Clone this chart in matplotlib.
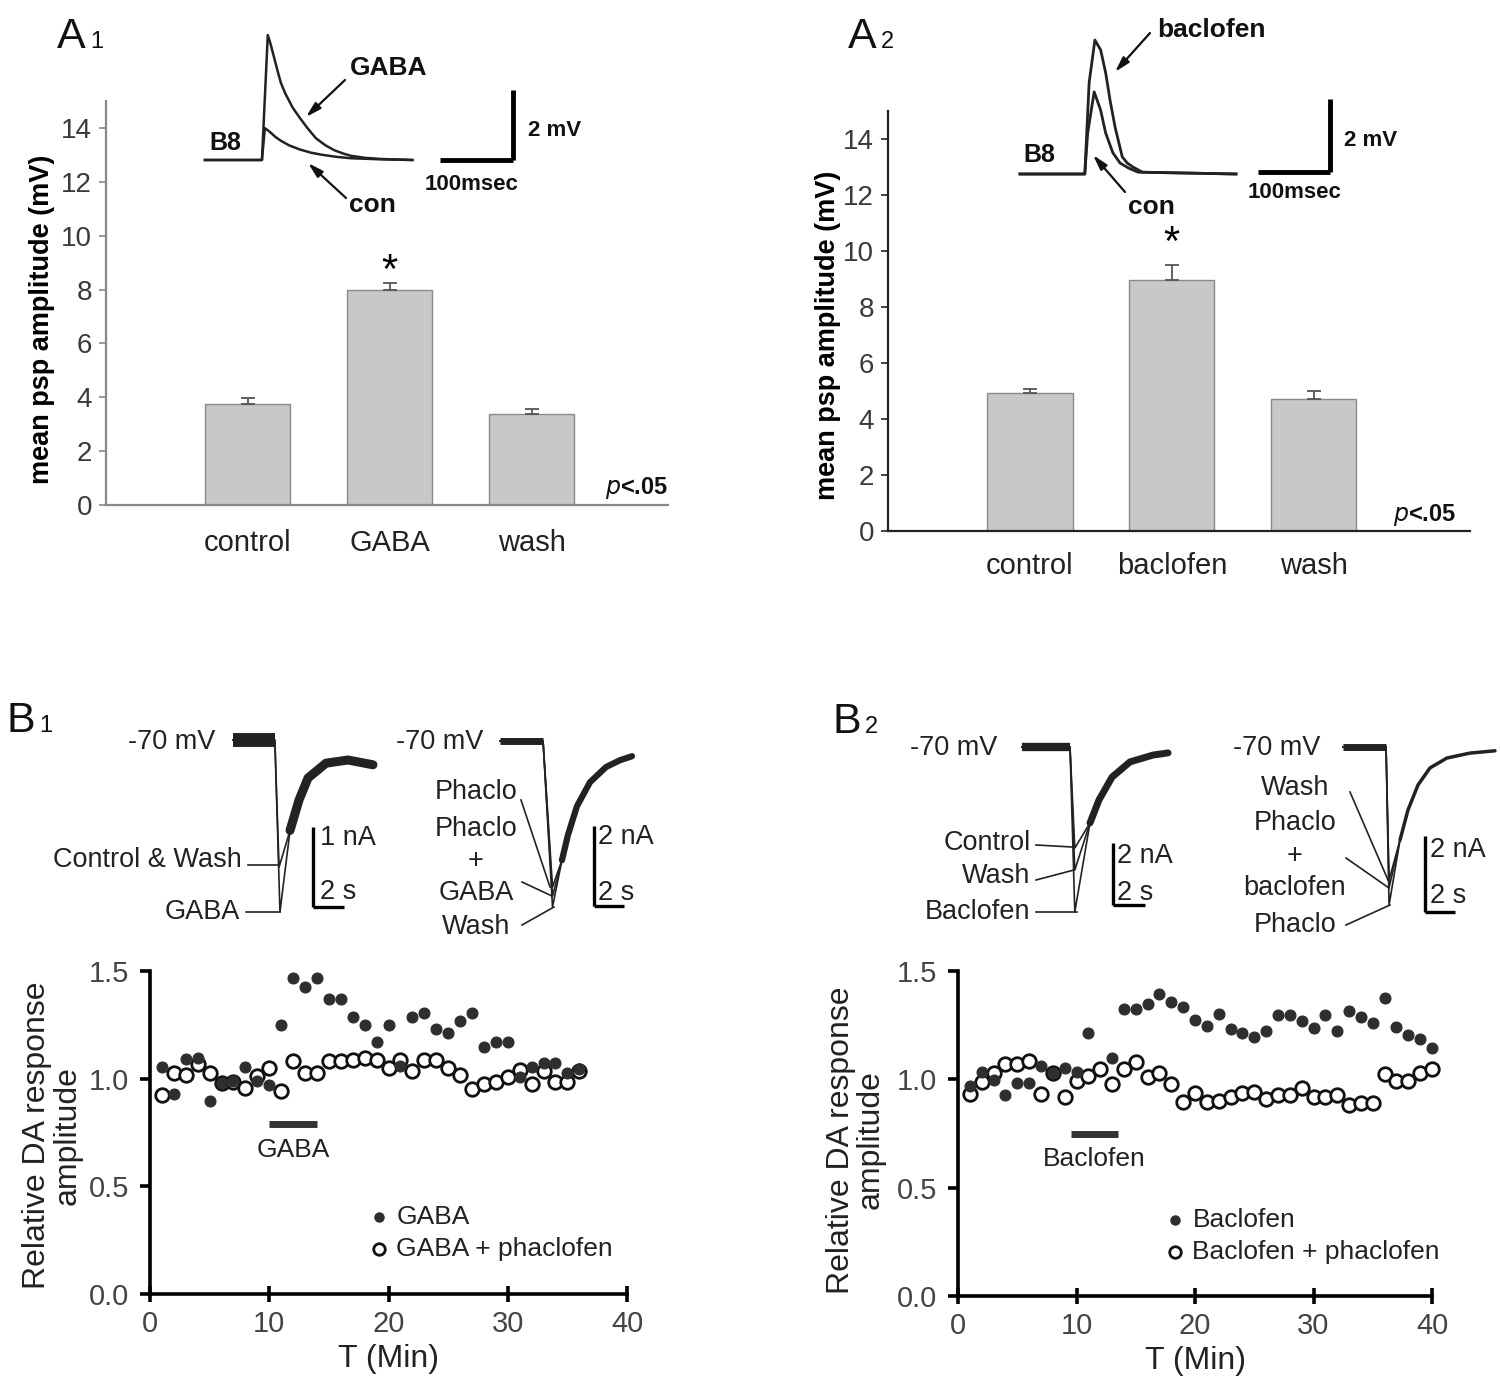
import numpy as np
import matplotlib.pyplot as plt

plt.rcParams['font.family'] = ['Liberation Sans', 'DejaVu Sans']

W, H = 1500, 1385

# ---------------- A: mean psp amplitude (mV) ----------------
a1_groups = ['control', 'GABA', 'wash']
a1_mean = [3.76, 7.98, 3.38]
a1_sem = [0.22, 0.26, 0.17]

a2_groups = ['control', 'baclofen', 'wash']
a2_mean = [4.93, 8.98, 4.72]
a2_sem = [0.14, 0.52, 0.28]

# example B8 psp traces (ms, mV above baseline)
a1_t_gaba = [0, 78, 86, 90, 95, 100, 104, 110, 120, 129, 140, 152, 165, 177, 190, 200, 220, 240, 284]
a1_v_gaba = [0, 0, 3.57, 3.3, 2.9, 2.5, 2.2, 1.9, 1.5, 1.23, 0.92, 0.62, 0.42, 0.28, 0.18, 0.12, 0.06, 0.03, 0]
a1_t_con = [0, 78, 82, 86, 90, 97, 104, 115, 130, 145, 160, 180, 200, 240, 284]
a1_v_con = [0, 0, 0.91, 0.85, 0.78, 0.65, 0.55, 0.42, 0.3, 0.21, 0.15, 0.09, 0.05, 0.02, 0]

a2_t_bac = [0, 90, 96, 104, 112, 119, 125, 132, 142, 149, 157, 170, 300]
a2_v_bac = [0, 0, 2.5, 3.67, 3.4, 2.77, 2.03, 1.29, 0.47, 0.3, 0.19, 0.05, 0]
a2_t_con = [0, 90, 94, 103, 112, 119, 129, 139, 151, 164, 300]
a2_v_con = [0, 0, 1.12, 2.25, 1.75, 1.12, 0.58, 0.3, 0.16, 0.05, 0]

# ---------------- B: relative DA response amplitude ----------------
b1_time = list(range(1, 37))
b1_gaba = [1.055, 0.93, 1.09, 1.094, 0.894, 0.98, 0.99, 1.055, 0.99, 0.97,
           1.248, 1.466, 1.428, 1.466, 1.37, 1.37, 1.288, 1.249, 1.168, 1.249,
           1.058, 1.288, 1.306, 1.23, 1.212, 1.27, 1.306, 1.148, 1.168, 1.168,
           1.01, 1.055, 1.072, 1.072, 1.028, 1.043]
b1_gaba_phac = [0.925, 1.028, 1.017, 1.066, 1.028, 0.978, 0.985, 0.957, 1.012, 1.05,
                0.943, 1.08, 1.028, 1.028, 1.08, 1.08, 1.089, 1.098, 1.089, 1.05,
                1.086, 1.035, 1.089, 1.089, 1.05, 1.017, 0.954, 0.975, 0.985, 1.009,
                1.04, 0.977, 1.034, 0.986, 0.986, 1.035]
b1_drug = [10, 14]

b2_time_bac = [1, 2, 3, 4, 5, 6, 7, 8, 9, 10, 11,
               13, 14, 15, 16, 17, 18, 19, 20, 21, 22, 23, 24, 25, 26,
               27, 28, 29, 30, 31, 32, 33, 34, 35, 36, 37, 38, 39, 40]
b2_bac = [0.969, 1.035, 0.997, 0.928, 0.985, 0.985, 1.062, 1.028, 1.051, 1.035, 1.212,
          1.097, 1.323, 1.323, 1.349, 1.392, 1.357, 1.335, 1.272, 1.246, 1.3,
          1.232, 1.212, 1.194, 1.225, 1.298, 1.298, 1.271, 1.238, 1.298, 1.225,
          1.317, 1.289, 1.262, 1.374, 1.24, 1.205, 1.185, 1.146]
b2_time_phac = list(range(1, 41))
b2_bac_phac = [0.931, 0.986, 1.028, 1.071, 1.071, 1.086, 0.932, 1.03, 0.917, 0.994,
               1.015, 1.048, 0.978, 1.048, 1.082, 1.009, 1.031, 0.978, 0.897, 0.935,
               0.897, 0.902, 0.92, 0.935, 0.94, 0.908, 0.928, 0.928, 0.958, 0.92,
               0.92, 0.928, 0.882, 0.892, 0.889, 1.025, 0.994, 0.994, 1.028, 1.046]
b2_drug = [9.5, 13.5]

# example DA current traces (s, nA)
b1l_t_ctrl = [0, 2.7, 2.97, 3.68, 4.26, 4.84, 6.0, 7.42, 9.03]
b1l_v_ctrl = [0, 0, -1.59, -1.13, -0.75, -0.475, -0.29, -0.25, -0.31]
b1l_t_gaba = [0, 2.7, 3.03, 3.68, 4.26, 4.84, 6.0, 7.42, 9.03]
b1l_v_gaba = [0, 0, -2.15, -1.13, -0.75, -0.475, -0.29, -0.25, -0.31]

b1r_t = [0, 2.87, 3.5, 4.13, 4.53, 5.13, 6.0, 7.07, 8.0, 8.8]
b1r_min = [-3.65, -3.88, -4.15]   # Phaclo, Phaclo + GABA, Wash
b1r_tail = [-2.98, -2.35, -1.63, -1.03, -0.65, -0.48, -0.38]

b2l_t = [0, 3.0, 3.3, 4.25, 4.81, 5.63, 6.75, 8.19, 9.13]
b2l_min = [-3.26, -3.97, -5.32]   # Control, Wash, Baclofen
b2l_tail = [-2.45, -1.71, -0.97, -0.48, -0.26, -0.19]

b2r_t = [0, 2.87, 3.07, 3.8, 4.33, 5.0, 5.8, 6.93, 8.47, 10.13]
b2r_min = [-3.5, -3.71, -4.16]    # Wash, Phaclo + baclofen, Phaclo
b2r_tail = [-2.45, -1.66, -1.0, -0.55, -0.29, -0.16, -0.1]

fig = plt.figure(figsize=(W / 100, H / 100), dpi=100)


def px_box(x0, y0, x1, y1):
    return [x0 / W, 1 - y1 / H, (x1 - x0) / W, (y1 - y0) / H]


def bar_panel(box, groups, means, sem, xmax, spine_color, star_y, xpad):
    ax = fig.add_axes(px_box(*box))
    x = np.arange(1, len(groups) + 1)
    ax.bar(x, means, width=0.6, color='#c8c8c8', edgecolor='#8a8a8a',
           linewidth=1.0, zorder=2)
    ax.errorbar(x, means, yerr=[np.zeros(len(sem)), sem], fmt='none',
                ecolor='#555555', elinewidth=1.3, capsize=5, capthick=1.3, zorder=3)
    ax.set_xlim(0, xmax)
    ax.set_ylim(0, 15)
    ax.set_yticks(range(0, 15, 2))
    ax.set_xticks(x)
    ax.set_xticklabels(groups)
    for s in ['top', 'right']:
        ax.spines[s].set_visible(False)
    for s in ['left', 'bottom']:
        ax.spines[s].set_color(spine_color)
        ax.spines[s].set_linewidth(1.6)
    ax.tick_params(axis='y', direction='out', length=5, width=1.2, color=spine_color,
                   labelsize=20, labelcolor='#3a3a3a', pad=5)
    ax.tick_params(axis='x', length=0, labelsize=21, labelcolor='#222222', pad=xpad)
    ax.set_ylabel('mean psp amplitude (mV)', fontsize=19.5, fontweight='bold',
                  va='center')
    ax.text(2, star_y, '*', ha='center', va='center', fontsize=30)
    ax.patch.set_alpha(0)
    return ax


ax_a1 = bar_panel((106, 101, 668, 505), a1_groups, a1_mean, a1_sem, 3.96, '#888888', 8.67, 17)
ax_a1.yaxis.set_label_coords(-0.114, 0.46)
ax_a2 = bar_panel((888, 111, 1470, 531), a2_groups, a2_mean, a2_sem, 4.1, '#222222', 10.25, 15)
ax_a2.yaxis.set_label_coords(-0.103, 0.467)


def scatter_panel(box, t1, y1, t2, y2, drug, drug_y, drug_name, names, leg_xy):
    ax = fig.add_axes(px_box(*box))
    h2 = ax.scatter(t2, y2, s=95, facecolor='white', edgecolor='#111111',
                    linewidth=2.0, zorder=3, clip_on=False)
    h1 = ax.scatter(t1, y1, s=62, color='#2e2e2e', edgecolor='#2e2e2e',
                    linewidth=0.8, zorder=4, clip_on=False)
    ax.plot(drug, [drug_y, drug_y], color='#333333', lw=5, solid_capstyle='butt')
    ax.text(np.mean(drug), drug_y - 0.12, drug_name, ha='center', va='center',
            fontsize=19, color='#222222')
    ax.set_xlim(0, 40)
    ax.set_ylim(0, 1.5)
    ax.set_xticks([0, 10, 20, 30, 40])
    ax.set_yticks([0.0, 0.5, 1.0, 1.5])
    ax.set_yticklabels(['0.0', '0.5', '1.0', '1.5'])
    for s in ['top', 'right']:
        ax.spines[s].set_visible(False)
    for s in ['left', 'bottom']:
        ax.spines[s].set_linewidth(2.6)
    ax.tick_params(axis='x', direction='inout', length=11, width=2.6, labelsize=21,
                   labelcolor='#444444', pad=6)
    ax.tick_params(axis='y', direction='out', length=7, width=2.6, labelsize=21,
                   labelcolor='#444444', pad=8)
    ax.set_xlabel('T (Min)', fontsize=23, color='#222222')
    ax.xaxis.set_label_coords(0.5, -0.2)
    ax.xaxis.label.set_va('center')
    ax.set_ylabel('Relative DA response\namplitude', fontsize=23, color='#222222',
                  linespacing=1.0, va='center')
    ax.legend([h1, h2], names, loc='upper left',
              bbox_to_anchor=(leg_xy[0] / W, 1 - leg_xy[1] / H),
              bbox_transform=fig.transFigure, frameon=False, fontsize=19,
              borderpad=0, borderaxespad=0, handlelength=0.7, handletextpad=0.3,
              labelspacing=0.3, scatterpoints=1, markerscale=0.85,
              labelcolor='#222222')
    ax.patch.set_alpha(0)
    return ax


ax_b1 = scatter_panel((150, 971, 627, 1294), b1_time, b1_gaba, b1_time, b1_gaba_phac,
                      b1_drug, 0.79, 'GABA', ['GABA', 'GABA + phaclofen'], (370, 1205))
ax_b1.yaxis.set_label_coords(-0.205, 0.49)
ax_b2 = scatter_panel((958, 971, 1432, 1296), b2_time_bac, b2_bac, b2_time_phac, b2_bac_phac,
                      b2_drug, 0.75, 'Baclofen', ['Baclofen', 'Baclofen + phaclofen'],
                      (1166, 1208))
ax_b2.yaxis.set_label_coords(-0.215, 0.48)


# ---------------- example traces ----------------
def trace_axes(ox, oy, sx, sy, box):
    # ox, oy: pixel of (t=0, v=0); sx, sy: pixels per unit
    x0, y0, x1, y1 = box
    ax = fig.add_axes(px_box(x0, y0, x1, y1))
    ax.set_xlim((x0 - ox) / sx, (x1 - ox) / sx)
    ax.set_ylim((oy - y1) / sy, (oy - y0) / sy)
    ax.axis('off')
    return ax


def scale_bar(ax, t0, v0, dt, dv, lw, vert_right):
    # L-shaped bar; vertical arm at the right end (A insets) or left end (B insets)
    ax.plot([t0, t0 + dt], [v0, v0], color='k', lw=lw, solid_capstyle='butt')
    tv = t0 + dt if vert_right else t0
    ax.plot([tv, tv], [v0, v0 + dv], color='k', lw=lw, solid_capstyle='butt')


# A1 inset
ax = trace_axes(205, 160, 0.73, 35, (195, 15, 545, 195))
ax.plot(a1_t_gaba, a1_v_gaba, color='#222222', lw=1.8)
ax.plot(a1_t_con, a1_v_con, color='#222222', lw=1.8)
scale_bar(ax, 322, 0, 100, 2, 3.5, True)

# A2 inset
ax = trace_axes(1020, 174, 0.72, 36.5, (1010, 20, 1345, 200))
ax.plot(a2_t_bac, a2_v_bac, color='#222222', lw=2.0)
ax.plot(a2_t_con, a2_v_con, color='#222222', lw=2.0)
scale_bar(ax, 331, 0.05, 100, 2, 3.5, True)


def current_axes(ox, oy, sx, sy, box, t, mins, tail, base_lw, tail_lw, bar_t, bar_v, dv):
    ax = trace_axes(ox, oy, sx, sy, box)
    for m in mins:
        ax.plot(t, [0, 0, m] + tail, color='#222222', lw=1.2)
    ax.plot(t[:2], [0, 0], color='#222222', lw=base_lw, solid_capstyle='butt')
    ax.plot(t[3:], tail, color='#222222', lw=tail_lw, solid_capstyle='round')
    scale_bar(ax, bar_t, bar_v, 2, dv, 2.4, False)
    return ax


# B1 left (two traces with their own minima)
ax = trace_axes(233, 740, 15.5, 80, (225, 720, 380, 925))
ax.plot(b1l_t_gaba, b1l_v_gaba, color='#222222', lw=1.2)
ax.plot(b1l_t_ctrl, b1l_v_ctrl, color='#222222', lw=1.2)
ax.plot(b1l_t_ctrl[:2], [0, 0], color='#222222', lw=10, solid_capstyle='butt')
ax.plot(b1l_t_ctrl[3:], b1l_v_ctrl[3:], color='#222222', lw=6.5, solid_capstyle='round')
scale_bar(ax, 5.16, -2.09, 2, 1, 2.4, False)

current_axes(500, 741, 15, 40, (490, 720, 645, 925), b1r_t, b1r_min, b1r_tail,
             5, 4.5, 6.27, -4.125, 2)
current_axes(1022, 747, 16, 31, (1010, 725, 1180, 925), b2l_t, b2l_min, b2l_tail,
             6, 5, 5.69, -5.1, 2)
current_axes(1343, 747, 15, 38, (1330, 725, 1500, 925), b2r_t, b2r_min, b2r_tail,
             5, 2.5, 5.47, -4.34, 2)

# ---------------- overlay: labels, pointer lines, arrows ----------------
ov = fig.add_axes([0, 0, 1, 1], zorder=10)
ov.set_xlim(0, W)
ov.set_ylim(H, 0)
ov.axis('off')
ov.patch.set_alpha(0)

txt = dict(color='#222222', fontsize=19.5, va='center')


def panel_label(x, y, letter, num):
    ov.text(x, y, letter, fontsize=31, va='baseline', ha='left', color='#111111')
    ov.text(x + 33, y, num, fontsize=17, va='baseline', ha='left', color='#111111')


panel_label(57, 48, 'A', '1')
panel_label(848, 48, 'A', '2')
panel_label(6, 732, 'B', '1')
panel_label(832, 733, 'B', '2')

bold = dict(color='#111111', fontweight='bold', va='center')
# A1 inset labels
ov.text(209, 143, 'B8', fontsize=18, **bold)
ov.text(350, 68, 'GABA', fontsize=19, **bold)
ov.text(349, 205, 'con', fontsize=19, **bold)
ov.text(528, 130, '2 mV', fontsize=16, **bold)
ov.text(472, 185, '100msec', fontsize=16, ha='center', **bold)
arrow = dict(arrowstyle='-|>,head_length=0.9,head_width=0.25', color='#111111', lw=1.6,
             shrinkA=0, shrinkB=0)
ov.annotate('', xy=(306, 117), xytext=(345, 80), arrowprops=arrow)
ov.annotate('', xy=(308, 163), xytext=(346, 198), arrowprops=arrow)
# A2 inset labels
ov.text(1023, 155, 'B8', fontsize=18, **bold)
ov.text(1157, 30, 'baclofen', fontsize=19, **bold)
ov.text(1128, 207, 'con', fontsize=19, **bold)
ov.text(1344, 140, '2 mV', fontsize=16, **bold)
ov.text(1295, 192, '100msec', fontsize=16, ha='center', **bold)
ov.annotate('', xy=(1115, 72), xytext=(1150, 33), arrowprops=arrow)
ov.annotate('', xy=(1093, 155), xytext=(1125, 192), arrowprops=arrow)
# p values
ov.text(605, 488, r'$\mathit{p}$<.05', fontsize=17, **bold)
ov.text(1393, 515, r'$\mathit{p}$<.05', fontsize=17, **bold)

# B1 left
ov.text(215, 742, '-70 mV', ha='right', **txt)
ov.text(242, 860, 'Control & Wash', ha='right', **txt)
ov.text(240, 912, 'GABA', ha='right', **txt)
ov.plot([248, 278], [865, 865], color='#222222', lw=1.2)
ov.plot([246, 280], [912, 912], color='#222222', lw=1.2)
ov.text(320, 838, '1 nA', ha='left', **txt)
ov.text(320, 892, '2 s', ha='left', **txt)
# B1 right
ov.text(483, 742, '-70 mV', ha='right', **txt)
for s, y in [('Phaclo', 792), ('Phaclo', 829), ('+', 861), ('GABA', 893), ('Wash', 927)]:
    ov.text(476, y, s, ha='center', **txt)
ov.plot([521, 550], [800, 887], color='#222222', lw=1.2)
ov.plot([522, 552], [882, 896], color='#222222', lw=1.2)
ov.plot([522, 554], [925, 907], color='#222222', lw=1.2)
ov.text(598, 837, '2 nA', ha='left', **txt)
ov.text(598, 893, '2 s', ha='left', **txt)
# B2 left
ov.text(997, 748, '-70 mV', ha='right', **txt)
ov.text(1031, 843, 'Control', ha='right', **txt)
ov.text(1030, 876, 'Wash', ha='right', **txt)
ov.text(1030, 912, 'Baclofen', ha='right', **txt)
ov.plot([1036, 1072], [845, 847], color='#222222', lw=1.2)
ov.plot([1036, 1074], [880, 870], color='#222222', lw=1.2)
ov.plot([1036, 1077], [912, 912], color='#222222', lw=1.2)
ov.text(1117, 856, '2 nA', ha='left', **txt)
ov.text(1117, 893, '2 s', ha='left', **txt)
# B2 right
ov.text(1320, 748, '-70 mV', ha='right', **txt)
for s, y in [('Wash', 788), ('Phaclo', 823), ('+', 856), ('baclofen', 888), ('Phaclo', 925)]:
    ov.text(1295, y, s, ha='center', **txt)
ov.plot([1350, 1388], [792, 880], color='#222222', lw=1.2)
ov.plot([1346, 1389], [858, 888], color='#222222', lw=1.2)
ov.plot([1346, 1390], [925, 905], color='#222222', lw=1.2)
ov.text(1430, 850, '2 nA', ha='left', **txt)
ov.text(1430, 896, '2 s', ha='left', **txt)

fig.savefig('out.png', dpi=100, facecolor='white')
